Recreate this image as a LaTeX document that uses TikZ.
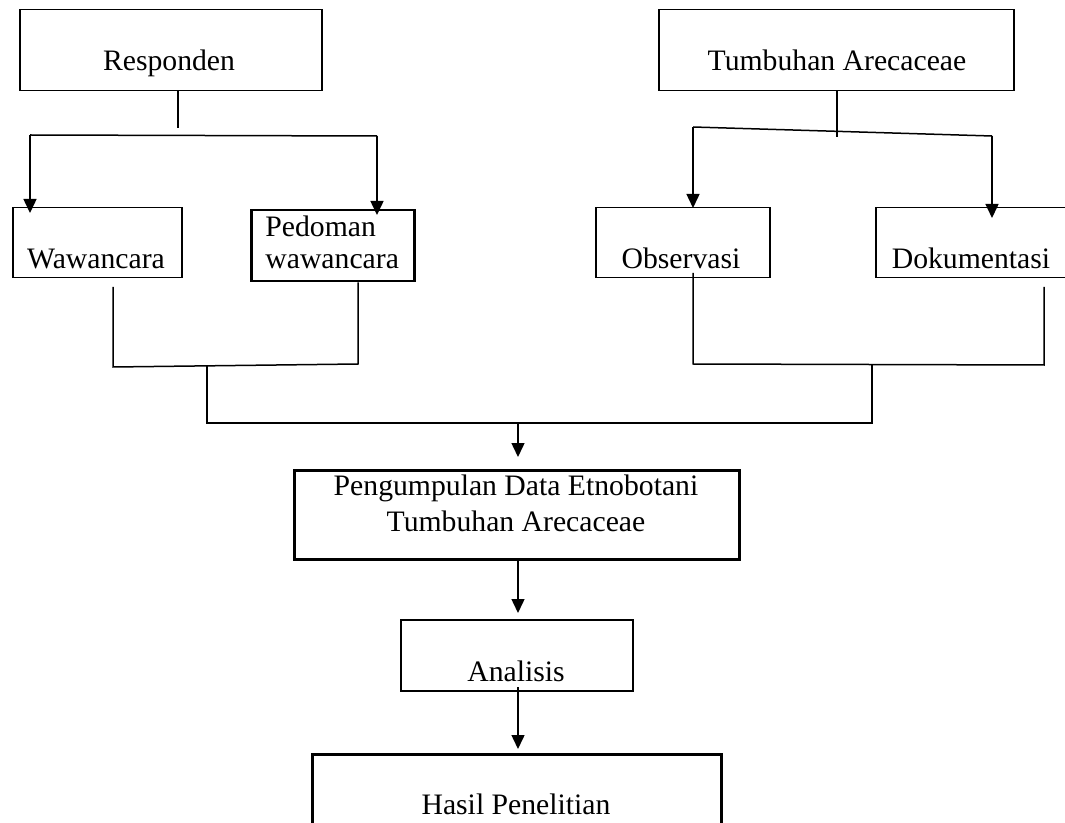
\documentclass[tikz,border=0pt]{standalone}
\usepackage{fontspec}
\setmainfont{Liberation Serif}
\usetikzlibrary{arrows.meta}
\begin{document}
\begin{tikzpicture}[x=0.5pt,y=-0.5pt,
  box/.style={draw,line width=0.75pt,inner sep=0,anchor=north west},
  thickbox/.style={box,line width=1.25pt},
  conn/.style={line width=0.75pt},
  arr/.style={conn,-{Triangle[length=7pt,width=6.5pt]}},
  lbl/.style={anchor=base,inner sep=0,font=\fontsize{14.85}{17.8}\selectfont}]
\useasboundingbox (0,0) rectangle (1065,823);
\clip (0,0) rectangle (1065,823);
% boxes
\node[box,minimum width=151pt,minimum height=40.5pt] (resp) at (19,9) {};
\node[box,minimum width=177.5pt,minimum height=40.5pt] (tumb) at (658,9) {};
\node[box,minimum width=84.5pt,minimum height=35pt] (waw) at (12,207) {};
\node[thickbox,minimum width=81.5pt,minimum height=35.5pt] (ped) at (250,209) {};
\node[box,minimum width=87pt,minimum height=35pt] (obs) at (595,207) {};
\node[box,minimum width=100pt,minimum height=35pt] (dok) at (875,207) {};
\node[thickbox,minimum width=222.5pt,minimum height=44.5pt] (peng) at (293,469) {};
\node[box,line width=1pt,minimum width=116pt,minimum height=35.5pt] (ana) at (400,619) {};
\node[thickbox,minimum width=204.5pt,minimum height=50pt] (hasil) at (311,753) {};
% texts
\node[lbl] (respT) at (169,71) {Responden};
\node[lbl] (tumbT) at (837,71) {Tumbuhan Arecaceae};
\node[lbl] (wawT) at (96,269) {Wawancara};
\node[lbl,anchor=base west] (pedT1) at (265,237) {Pedoman};
\node[lbl,anchor=base west] (pedT2) at (265,269) {wawancara};
\node[lbl] (obsT) at (681,269) {Observasi};
\node[lbl] (dokT) at (971,269) {Dokumentasi};
\node[lbl] (pengT1) at (516,495) {Pengumpulan Data Etnobotani};
\node[lbl] (pengT2) at (516,531) {Tumbuhan Arecaceae};
\node[lbl] (anaT) at (516,681) {Analisis};
\node[lbl] (hasilT) at (516,814) {Hasil Penelitian};
% junction coordinates
\coordinate (j1) at (178,128);
\coordinate (j1l) at (30,135);
\coordinate (j1r) at (377,136);
\coordinate (j2) at (837,137);
\coordinate (j2l) at (693,127);
\coordinate (j2r) at (992,136);
\coordinate (wl) at (113,287);
\coordinate (wb) at (113,367);
\coordinate (pb) at (358,364);
\coordinate (lm) at (207,366);
\coordinate (ob) at (693,364);
\coordinate (dt) at (1044,287);
\coordinate (db) at (1044,365);
\coordinate (rm) at (872,365);
\coordinate (bl) at (207,423);
\coordinate (br) at (872,423);
\coordinate (bm) at (518,423);
% connectors top-left
\draw[conn] (resp.south -| j1) -- (j1);
\draw[conn] (j1l) -- (j1r);
\draw[arr] (j1l) -- (30,213);
\draw[arr] (j1r) -- (377,215);
% connectors top-right
\draw[conn] (tumb.south -| j2) -- (j2);
\draw[conn] (j2l) -- (j2r);
\draw[arr] (j2l) -- (693,208);
\draw[arr] (j2r) -- (992,218);
% lower joins
\draw[conn] (wl) -- (wb) -- (pb) -- (ped.south -| pb);
\draw[conn] (lm) -- (bl) -- (br) -- (rm);
\draw[conn] (693,273) -- (ob) -- (db) -- (dt);
\draw[arr] (bm) -- (518,457);
\draw[arr] (peng.south -| bm) -- (518,613);
\draw[arr] (518,687) -- (518,749);
\end{tikzpicture}
\end{document}
